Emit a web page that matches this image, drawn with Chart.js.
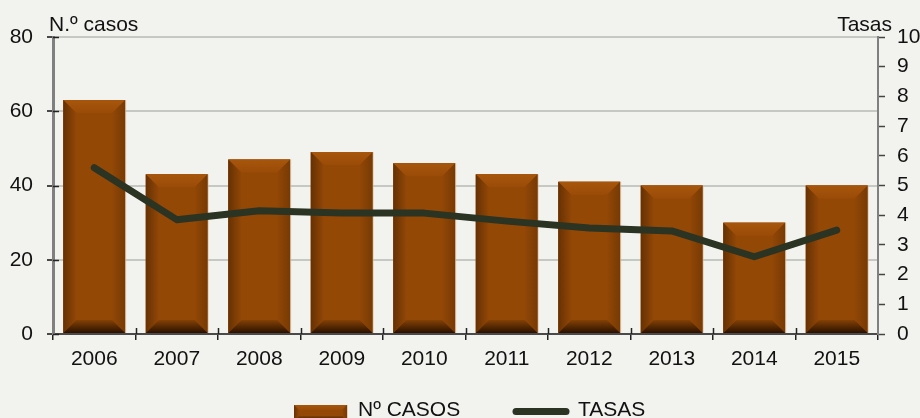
<!DOCTYPE html>
<html>
<head>
<meta charset="utf-8">
<script src="https://cdn.jsdelivr.net/npm/chart.js@4.4.1/dist/chart.umd.min.js"></script>
<style>
  html, body { margin: 0; padding: 0; background: #f2f3ee; overflow: hidden; }
  #wrap { width: 920px; height: 418px; }
</style>
</head>
<body>
<div id="wrap"><canvas id="chart" width="920" height="418"></canvas></div>
<script>
const years = ["2006", "2007", "2008", "2009", "2010", "2011", "2012", "2013", "2014", "2015"];
const casos = [63, 43, 47, 49, 46, 43, 41, 40, 30, 40];
const tasas = [5.6, 3.85, 4.15, 4.07, 4.07, 3.8, 3.57, 3.47, 2.6, 3.5];
const casosLabel = "Nº CASOS";
const tasasLabel = "TASAS";
const leftTitle = "N.º casos";
const rightTitle = "Tasas";

const FONT = "'Liberation Sans', Arial, sans-serif";
const BG = "#f2f3ee";
const BAR = "#944806";
const LINE = "#2b3323";

// beveled brown block, used for the bars and the legend swatch
function bevelBox(ctx, l, t, r, bt, b) {
  const h = bt - t;
  b = Math.min(b, (r - l) / 4, h / 3);
  ctx.save();
  ctx.fillStyle = BAR;
  ctx.fillRect(l, t, r - l, h);

  let g = ctx.createLinearGradient(0, t, 0, t + b);
  g.addColorStop(0, "#a7560c");
  g.addColorStop(1, "#9a4b07");
  ctx.fillStyle = g;
  ctx.beginPath();
  ctx.moveTo(l, t); ctx.lineTo(r, t); ctx.lineTo(r - b, t + b); ctx.lineTo(l + b, t + b);
  ctx.closePath(); ctx.fill();

  g = ctx.createLinearGradient(l, 0, l + b, 0);
  g.addColorStop(0, "#663103");
  g.addColorStop(1, "#924706");
  ctx.fillStyle = g;
  ctx.beginPath();
  ctx.moveTo(l, t); ctx.lineTo(l + b, t + b); ctx.lineTo(l + b, bt - b); ctx.lineTo(l, bt);
  ctx.closePath(); ctx.fill();

  g = ctx.createLinearGradient(r, 0, r - b, 0);
  g.addColorStop(0, "#773a04");
  g.addColorStop(1, "#924706");
  ctx.fillStyle = g;
  ctx.beginPath();
  ctx.moveTo(r, t); ctx.lineTo(r, bt); ctx.lineTo(r - b, bt - b); ctx.lineTo(r - b, t + b);
  ctx.closePath(); ctx.fill();

  g = ctx.createLinearGradient(0, bt, 0, bt - b);
  g.addColorStop(0, "#2a1100");
  g.addColorStop(1, "#844105");
  ctx.fillStyle = g;
  ctx.beginPath();
  ctx.moveTo(l, bt); ctx.lineTo(r, bt); ctx.lineTo(r - b, bt - b); ctx.lineTo(l + b, bt - b);
  ctx.closePath(); ctx.fill();

  ctx.strokeStyle = "rgba(220,190,160,0.7)";
  ctx.lineWidth = 1;
  ctx.beginPath();
  ctx.moveTo(r + 0.5, t); ctx.lineTo(r + 0.5, bt);
  ctx.stroke();
  ctx.restore();
}

const background = {
  id: "background",
  beforeDraw(chart) {
    const ctx = chart.ctx;
    ctx.save();
    ctx.fillStyle = BG;
    ctx.fillRect(0, 0, chart.width, chart.height);
    ctx.restore();
  }
};

const bevelBars = {
  id: "bevelBars",
  afterDatasetDraw(chart, args) {
    if (args.meta.type !== "bar") return;
    const ctx = chart.ctx;
    args.meta.data.forEach(el => {
      const p = el.getProps(["x", "y", "base", "width"], true);
      bevelBox(ctx, p.x - p.width / 2, p.y, p.x + p.width / 2, p.base, 13);
    });
  }
};

const decorations = {
  id: "decorations",
  afterDraw(chart) {
    const ctx = chart.ctx;
    const area = chart.chartArea;
    const x = chart.scales.x;
    const y = chart.scales.y;
    ctx.save();

    // inner halves of the crossing tick marks
    ctx.strokeStyle = "#222";
    ctx.lineWidth = 1.5;
    ctx.beginPath();
    for (let i = 1; i < years.length; i++) {
      const px = Math.round((x.getPixelForTick(i - 1) + x.getPixelForTick(i)) / 2) + 0.5;
      ctx.moveTo(px, area.bottom); ctx.lineTo(px, area.bottom - 6);
    }
    y.ticks.forEach(t => {
      const py = Math.round(y.getPixelForValue(t.value)) + 0.5;
      ctx.moveTo(area.left, py); ctx.lineTo(area.left + 6, py);
    });
    ctx.stroke();

    // axis titles
    ctx.fillStyle = "#111";
    ctx.font = "21px " + FONT;
    ctx.textBaseline = "alphabetic";
    ctx.textAlign = "left";
    ctx.fillText(leftTitle, 49, 31);
    ctx.textAlign = "right";
    ctx.fillText(rightTitle, 892, 31);

    // legend
    bevelBox(ctx, 294, 405, 347, 421, 5);
    ctx.textAlign = "left";
    ctx.fillText(casosLabel, 358, 416);
    ctx.strokeStyle = LINE;
    ctx.lineWidth = 7;
    ctx.lineCap = "round";
    ctx.beginPath();
    ctx.moveTo(516, 411.5); ctx.lineTo(566, 411.5);
    ctx.stroke();
    ctx.fillText(tasasLabel, 578, 416);
    ctx.restore();
  }
};

const tickFont = { family: FONT, size: 21 };

new Chart(document.getElementById("chart"), {
  data: {
    labels: years,
    datasets: [
      {
        type: "line",
        label: tasasLabel,
        data: tasas,
        yAxisID: "y1",
        borderColor: LINE,
        borderWidth: 7,
        borderCapStyle: "round",
        borderJoinStyle: "round",
        pointRadius: 0,
        tension: 0,
        order: 0
      },
      {
        type: "bar",
        label: casosLabel,
        data: casos,
        yAxisID: "y",
        backgroundColor: BAR,
        categoryPercentage: 0.75,
        barPercentage: 1,
        order: 1
      }
    ]
  },
  options: {
    responsive: false,
    animation: false,
    layout: { padding: { top: 37, left: 0, right: 0, bottom: 0 } },
    plugins: {
      legend: { display: false },
      tooltip: { enabled: false }
    },
    scales: {
      x: {
        grid: { offset: true, drawOnChartArea: false, tickLength: 6, color: "#222", lineWidth: 1.5 },
        border: { color: "#4a4a4a", width: 2 },
        ticks: { font: tickFont, color: "#111", padding: 7 },
        afterFit: s => { s.height = 84; }
      },
      y: {
        position: "left",
        min: 0,
        max: 80,
        ticks: { stepSize: 20, font: tickFont, color: "#111", padding: 14 },
        grid: { color: "#c6c8c4", lineWidth: 2, tickColor: "#111", tickLength: 6, tickWidth: 1.5 },
        border: { color: "#808080", width: 3 },
        afterFit: s => { s.width = 53; }
      },
      y1: {
        position: "right",
        min: 0,
        max: 10,
        ticks: { stepSize: 1, font: tickFont, color: "#111", padding: 12 },
        grid: { drawOnChartArea: false, tickColor: "#444", tickLength: 7, tickWidth: 1.5 },
        border: { color: "#808080", width: 2 },
        afterFit: s => { s.width = 42; }
      }
    }
  },
  plugins: [background, bevelBars, decorations]
});
</script>
</body>
</html>
